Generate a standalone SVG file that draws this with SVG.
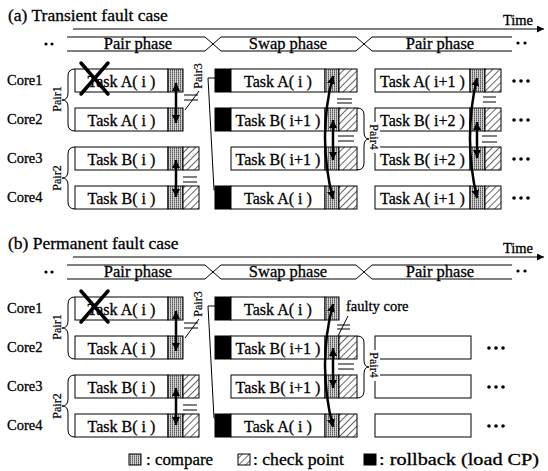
<svg xmlns="http://www.w3.org/2000/svg" width="548" height="471" viewBox="0 0 548 471">
<style>
.f{font-family:"Liberation Serif","Times New Roman",serif;fill:#000;stroke:#000;stroke-width:0.3}
.title{font-size:17.5px}
.core{font-size:14.5px}
.task{font-size:16px;text-anchor:middle}
.ph{font-size:16.5px;text-anchor:middle}
.pair{font-size:12px;text-anchor:middle;stroke-width:0.2}
.leg{font-size:17px}
.box{fill:#fff;stroke:#000;stroke-width:1}
.cmp{fill:url(#cmp);stroke:#000;stroke-width:1}
.cp{fill:url(#hatch);stroke:#000;stroke-width:1}
.rb{fill:#000;stroke:#000;stroke-width:1}
.ln{stroke:#000;stroke-width:1;fill:none}
.arr{stroke:#000;stroke-width:2.5;fill:none;marker-start:url(#ah);marker-end:url(#ah)}
.x{stroke:#000;stroke-width:3.5;stroke-linecap:round}
</style>
<defs>
<pattern id="cmp" width="2" height="2" patternUnits="userSpaceOnUse"><rect width="2" height="2" fill="#d2d2d2"/><rect width="1" height="2" fill="#8c8c8c"/><rect width="1" height="1" fill="#5a5a5a"/></pattern>
<pattern id="hatch" width="5" height="5" patternUnits="userSpaceOnUse" patternTransform="rotate(45)"><rect width="5" height="5" fill="#fff"/><line x1="2.5" y1="0" x2="2.5" y2="5" stroke="#555" stroke-width="0.9"/></pattern>
<marker id="ah" viewBox="0 0 10 10" refX="10" refY="5" markerWidth="8" markerHeight="8" markerUnits="userSpaceOnUse" orient="auto-start-reverse"><path d="M0,0 L10,5 L0,10 z" fill="#000"/></marker>
<marker id="ta" viewBox="0 0 10 10" refX="10" refY="5" markerWidth="9" markerHeight="7" markerUnits="userSpaceOnUse" orient="auto"><path d="M0,0 L10,5 L0,10 z" fill="#000"/></marker>
</defs>
<rect width="548" height="471" fill="#fff"/>

<g id="panelA">
<text class="f title" x="8" y="21">(a) Transient fault case</text>
<g id="a-time"><line class="ln" x1="73" y1="29" x2="544" y2="29" marker-end="url(#ta)"/><text class="f core" x="533" y="25" text-anchor="end">Time</text></g>
<g id="a-phases">
<path class="ln" d="M67,37 H205 L221,51 H356 L372,37 H512"/>
<path class="ln" d="M67,51 H205 L221,37 H356 L372,51 H512"/>
<text class="f ph" x="138" y="49">Pair phase</text>
<text class="f ph" x="288" y="49">Swap phase</text>
<text class="f ph" x="440" y="49">Pair phase</text>
<circle cx="46" cy="44" r="1.6"/><circle cx="52" cy="44" r="1.6"/>
<circle cx="518" cy="43" r="1.6"/><circle cx="525" cy="43" r="1.6"/>
</g>
<text class="f core" x="7" y="84.5">Core1</text>
<text class="f core" x="7" y="123.5">Core2</text>
<text class="f core" x="7" y="162.5">Core3</text>
<text class="f core" x="7" y="201.5">Core4</text>

<g id="a-p1-core1"><rect class="box" x="75" y="69" width="93" height="23"/><rect class="cmp" x="168" y="69" width="15" height="23"/><text class="f task" x="121.5" y="86.5">Task A( i )</text></g>
<g id="a-p1-core2"><rect class="box" x="75" y="108" width="93" height="23"/><rect class="cmp" x="168" y="108" width="15" height="23"/><text class="f task" x="121.5" y="125.5">Task A( i )</text></g>
<g id="a-p1-core3"><rect class="box" x="75" y="147" width="93" height="23"/><rect class="cmp" x="168" y="147" width="15" height="23"/><rect class="cp" x="183" y="147" width="16" height="23"/><text class="f task" x="121.5" y="164.5">Task B( i )</text></g>
<g id="a-p1-core4"><rect class="box" x="75" y="186" width="93" height="23"/><rect class="cmp" x="168" y="186" width="15" height="23"/><rect class="cp" x="183" y="186" width="16" height="23"/><text class="f task" x="121.5" y="203.5">Task B( i )</text></g>
<g id="a-fault"><line class="x" x1="81" y1="63" x2="108" y2="94"/><line class="x" x1="108" y1="63" x2="81" y2="94"/></g>

<g id="a-sw-core1"><rect class="rb" x="215" y="69" width="16" height="23"/><rect class="box" x="231" y="69" width="94" height="23"/><rect class="cmp" x="325" y="69" width="14" height="23"/><rect class="cp" x="339" y="69" width="18" height="23"/><text class="f task" x="278" y="86.5">Task A( i )</text></g>
<g id="a-sw-core2"><rect class="rb" x="215" y="108" width="16" height="23"/><rect class="box" x="231" y="108" width="94" height="23"/><rect class="cmp" x="325" y="108" width="14" height="23"/><rect class="cp" x="339" y="108" width="18" height="23"/><text class="f task" x="278" y="125.5">Task B( i+1 )</text></g>
<g id="a-sw-core3"><rect class="box" x="231" y="147" width="94" height="23"/><rect class="cmp" x="325" y="147" width="14" height="23"/><rect class="cp" x="339" y="147" width="18" height="23"/><text class="f task" x="278" y="164.5">Task B( i+1 )</text></g>
<g id="a-sw-core4"><rect class="rb" x="215" y="186" width="16" height="23"/><rect class="box" x="231" y="186" width="94" height="23"/><rect class="cmp" x="325" y="186" width="14" height="23"/><rect class="cp" x="339" y="186" width="18" height="23"/><text class="f task" x="278" y="203.5">Task A( i )</text></g>

<g id="a-p2-core1"><rect class="box" x="375" y="69" width="95" height="23"/><rect class="cmp" x="470" y="69" width="15" height="23"/><rect class="cp" x="485" y="69" width="16" height="23"/><text class="f task" x="422.5" y="86.5">Task A( i+1 )</text></g>
<g id="a-p2-core2"><rect class="box" x="375" y="108" width="95" height="23"/><rect class="cmp" x="470" y="108" width="15" height="23"/><rect class="cp" x="485" y="108" width="16" height="23"/><text class="f task" x="422.5" y="125.5">Task B( i+2 )</text></g>
<g id="a-p2-core3"><rect class="box" x="375" y="147" width="95" height="23"/><rect class="cmp" x="470" y="147" width="15" height="23"/><rect class="cp" x="485" y="147" width="16" height="23"/><text class="f task" x="422.5" y="164.5">Task B( i+2 )</text></g>
<g id="a-p2-core4"><rect class="box" x="375" y="186" width="95" height="23"/><rect class="cmp" x="470" y="186" width="15" height="23"/><rect class="cp" x="485" y="186" width="16" height="23"/><text class="f task" x="422.5" y="203.5">Task A( i+1 )</text></g>
<g id="a-dots">
<circle cx="514" cy="81" r="1.8"/><circle cx="521" cy="81" r="1.8"/><circle cx="528" cy="81" r="1.8"/>
<circle cx="514" cy="120" r="1.8"/><circle cx="521" cy="120" r="1.8"/><circle cx="528" cy="120" r="1.8"/>
<circle cx="514" cy="159" r="1.8"/><circle cx="521" cy="159" r="1.8"/><circle cx="528" cy="159" r="1.8"/>
<circle cx="514" cy="198" r="1.8"/><circle cx="521" cy="198" r="1.8"/><circle cx="528" cy="198" r="1.8"/>
</g>

<g id="a-connectors">
<path class="ln" d="M75,69 Q68,69 68,76 V93 Q68,100 62,100 Q68,100 68,107 V124 Q68,131 75,131"/>
<path class="ln" d="M75,147 Q68,147 68,154 V171 Q68,178 62,178 Q68,178 68,185 V202 Q68,209 75,209"/>
<path class="ln" d="M215,78 H208 L214,190 H215"/>
<path class="ln" d="M357,108 Q364,108 364,115 V132 Q364,139 369,139 Q364,139 364,146 V163 Q364,170 357,170"/>
<path class="arr" d="M176,83 V123"/>
<path class="arr" d="M176,160 V197"/>
<path class="ln" d="M184,95 H198 M184,100 H198 M185,110 L199,91"/>
<path class="ln" d="M183,177 H197 M183,182 H197"/>
<path class="arr" d="M333,76 Q317,137 333,199"/>
<path class="arr" d="M333,120 V160"/>
<path class="ln" d="M337,99 H352 M337,103 H352"/>
<path class="ln" d="M338,136 H354 M338,141 H354"/>
<path class="arr" d="M477,78 Q463,138 477,198"/>
<path class="arr" d="M477,122 V158"/>
<path class="ln" d="M483,97 H496 M483,102 H496"/>
<path class="ln" d="M482,136 H497 M482,142 H497"/>
</g>
<text class="f pair" transform="translate(57,99) rotate(-90)" y="4">Pair1</text>
<text class="f pair" transform="translate(57,178) rotate(-90)" y="4">Pair2</text>
<text class="f pair" transform="translate(198,76) rotate(-90)" y="4">Pair3</text>
<rect x="369" y="122" width="11" height="31" fill="#fff"/>
<text class="f pair" transform="translate(374,137) rotate(90)" y="4">Pair4</text>
</g>

<g id="panelB" transform="translate(0,228)">
<text class="f title" x="8" y="21">(b) Permanent fault case</text>
<g id="b-time"><line class="ln" x1="73" y1="29" x2="544" y2="29" marker-end="url(#ta)"/><text class="f core" x="533" y="25" text-anchor="end">Time</text></g>
<g id="b-phases">
<path class="ln" d="M67,37 H205 L221,51 H356 L372,37 H512"/>
<path class="ln" d="M67,51 H205 L221,37 H356 L372,51 H512"/>
<text class="f ph" x="138" y="49">Pair phase</text>
<text class="f ph" x="288" y="49">Swap phase</text>
<text class="f ph" x="440" y="49">Pair phase</text>
<circle cx="46" cy="44" r="1.6"/><circle cx="52" cy="44" r="1.6"/>
<circle cx="518" cy="43" r="1.6"/><circle cx="525" cy="43" r="1.6"/>
</g>
<text class="f core" x="7" y="84.5">Core1</text>
<text class="f core" x="7" y="123.5">Core2</text>
<text class="f core" x="7" y="162.5">Core3</text>
<text class="f core" x="7" y="201.5">Core4</text>

<g id="b-p1-core1"><rect class="box" x="75" y="69" width="93" height="23"/><rect class="cmp" x="168" y="69" width="15" height="23"/><text class="f task" x="121.5" y="86.5">Task A( i )</text></g>
<g id="b-p1-core2"><rect class="box" x="75" y="108" width="93" height="23"/><rect class="cmp" x="168" y="108" width="15" height="23"/><text class="f task" x="121.5" y="125.5">Task A( i )</text></g>
<g id="b-p1-core3"><rect class="box" x="75" y="147" width="93" height="23"/><rect class="cmp" x="168" y="147" width="15" height="23"/><rect class="cp" x="183" y="147" width="16" height="23"/><text class="f task" x="121.5" y="164.5">Task B( i )</text></g>
<g id="b-p1-core4"><rect class="box" x="75" y="186" width="93" height="23"/><rect class="cmp" x="168" y="186" width="15" height="23"/><rect class="cp" x="183" y="186" width="16" height="23"/><text class="f task" x="121.5" y="203.5">Task B( i )</text></g>
<g id="b-fault"><line class="x" x1="81" y1="63" x2="108" y2="94"/><line class="x" x1="108" y1="63" x2="81" y2="94"/></g>

<g id="b-sw-core1"><rect class="rb" x="215" y="69" width="16" height="23"/><rect class="box" x="231" y="69" width="94" height="23"/><rect class="cmp" x="325" y="69" width="14" height="23"/><text class="f task" x="278" y="86.5">Task A( i )</text><text class="f core" x="346" y="83">faulty core</text></g>
<g id="b-sw-core2"><rect class="rb" x="215" y="108" width="16" height="23"/><rect class="box" x="231" y="108" width="94" height="23"/><rect class="cmp" x="325" y="108" width="14" height="23"/><rect class="cp" x="339" y="108" width="18" height="23"/><text class="f task" x="278" y="125.5">Task B( i+1 )</text></g>
<g id="b-sw-core3"><rect class="box" x="231" y="147" width="94" height="23"/><rect class="cmp" x="325" y="147" width="14" height="23"/><rect class="cp" x="339" y="147" width="18" height="23"/><text class="f task" x="278" y="164.5">Task B( i+1 )</text></g>
<g id="b-sw-core4"><rect class="rb" x="215" y="186" width="16" height="23"/><rect class="box" x="231" y="186" width="94" height="23"/><rect class="cmp" x="325" y="186" width="14" height="23"/><rect class="cp" x="339" y="186" width="18" height="23"/><text class="f task" x="278" y="203.5">Task A( i )</text></g>

<g id="b-p2-core2"><rect class="box" x="375" y="108" width="96" height="23"/></g>
<g id="b-p2-core3"><rect class="box" x="375" y="147" width="96" height="23"/></g>
<g id="b-p2-core4"><rect class="box" x="375" y="186" width="96" height="23"/></g>
<g id="b-dots">
<circle cx="489" cy="120" r="1.8"/><circle cx="496" cy="120" r="1.8"/><circle cx="503" cy="120" r="1.8"/>
<circle cx="489" cy="159" r="1.8"/><circle cx="496" cy="159" r="1.8"/><circle cx="503" cy="159" r="1.8"/>
<circle cx="489" cy="198" r="1.8"/><circle cx="496" cy="198" r="1.8"/><circle cx="503" cy="198" r="1.8"/>
</g>

<g id="b-connectors">
<path class="ln" d="M75,69 Q68,69 68,76 V93 Q68,100 62,100 Q68,100 68,107 V124 Q68,131 75,131"/>
<path class="ln" d="M75,147 Q68,147 68,154 V171 Q68,178 62,178 Q68,178 68,185 V202 Q68,209 75,209"/>
<path class="ln" d="M215,78 H208 L214,190 H215"/>
<path class="ln" d="M357,108 Q364,108 364,115 V132 Q364,139 369,139 Q364,139 364,146 V163 Q364,170 357,170"/>
<path class="arr" d="M176,83 V123"/>
<path class="arr" d="M176,160 V197"/>
<path class="ln" d="M184,95 H198 M184,100 H198 M185,110 L199,91"/>
<path class="ln" d="M183,177 H197 M183,182 H197"/>
<path class="arr" d="M333,76 Q317,137 333,199"/>
<path class="arr" d="M333,120 V160"/>
<path class="ln" d="M337,97 H350 M337,101 H350 M338,108 L348,88"/>
<path class="ln" d="M338,136 H354 M338,141 H354"/>
</g>
<text class="f pair" transform="translate(57,99) rotate(-90)" y="4">Pair1</text>
<text class="f pair" transform="translate(57,178) rotate(-90)" y="4">Pair2</text>
<text class="f pair" transform="translate(198,76) rotate(-90)" y="4">Pair3</text>
<rect x="369" y="122" width="11" height="31" fill="#fff"/>
<text class="f pair" transform="translate(374,137) rotate(90)" y="4">Pair4</text>
</g>

<g id="legend">
<rect class="cmp" x="129" y="454" width="12" height="11"/>
<text class="f leg" x="146" y="465" textLength="67" lengthAdjust="spacingAndGlyphs">: compare</text>
<rect class="cp" x="238" y="454" width="12" height="11"/>
<text class="f leg" x="253" y="465" textLength="91" lengthAdjust="spacingAndGlyphs">: check point</text>
<rect class="rb" x="364" y="454" width="12" height="11"/>
<text class="f leg" x="379" y="465" textLength="160" lengthAdjust="spacingAndGlyphs">: rollback (load CP)</text>
</g>
</svg>
